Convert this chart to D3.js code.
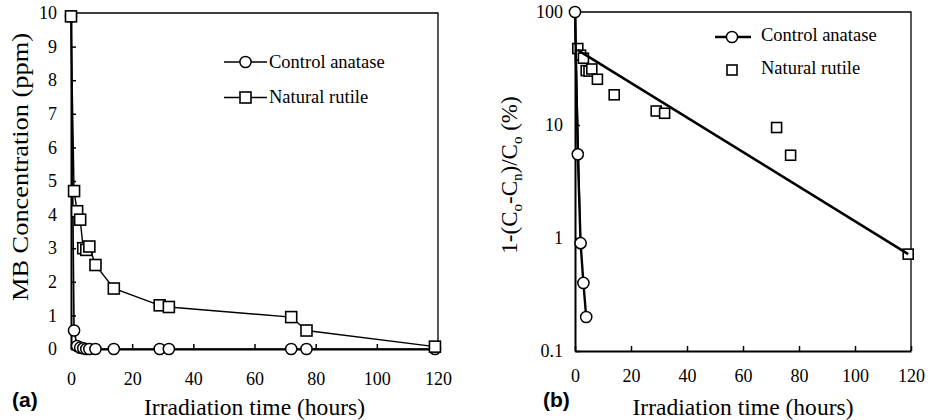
<!DOCTYPE html>
<html>
<head>
<meta charset="utf-8">
<script src="https://cdn.jsdelivr.net/npm/d3@7"></script>
<style>
  html, body { margin: 0; padding: 0; background: #fff; }
  svg { display: block; }
</style>
</head>
<body>
<script>
// ---- Panel (a): MB concentration vs irradiation time ----
const timeH      = [0, 1, 2, 3, 4, 5, 6, 8, 14, 29, 32, 72, 77, 119];
const anataseMB  = [9.9, 0.55, 0.09, 0.04, 0.02, 0, 0, 0, 0, 0, 0, 0, 0, 0];
const rutileMB   = [9.9, 4.7, 4.1, 3.85, 3.0, 2.95, 3.05, 2.5, 1.8, 1.3, 1.25, 0.95, 0.55, 0.07];
const xTicksA    = [0, 20, 40, 60, 80, 100, 120];
const yTicksA    = [0, 1, 2, 3, 4, 5, 6, 7, 8, 9, 10];

// ---- Panel (b): remaining fraction (%) on a log scale ----
const anataseTimeB = [0, 1, 2, 3, 4];
const anatasePct   = [100, 5.5, 0.9, 0.4, 0.2];
const rutileTimeB  = [1, 2, 3, 4, 5, 6, 8, 14, 29, 32, 72, 77, 119];
const rutilePct    = [47.5, 41.5, 39, 30.3, 30, 31.3, 25.4, 18.5, 13.3, 12.7, 9.5, 5.4, 0.72];
const anataseFitTime = [0, 2];
const anataseFitPct  = [100, 0.9];
const rutileFitTime  = [1, 119];
const rutileFitPct   = [46, 0.72];
const xTicksB = [0, 20, 40, 60, 80, 100, 120];
const yTicksB = [0.1, 1, 10, 100];

const seriesNames = ["Control anatase", "Natural rutile"];

const SERIF = "'Liberation Serif', 'DejaVu Serif', serif";
const SANS  = "'Liberation Sans', Arial, sans-serif";

const svg = d3.select("body").append("svg")
  .attr("width", 930).attr("height", 420);

const zip = (xs, ys) => xs.map((x, i) => [x, ys[i]]);

function styleAxis(g) {
  g.attr("font-family", null).attr("font-size", null);
  g.select(".domain").attr("stroke", "#000").attr("stroke-width", 2);
  g.selectAll(".tick line").attr("stroke", "#000").attr("stroke-width", 1.5);
  g.selectAll(".tick text").style("font-size", "18px").attr("fill", "#000");
}

function circles(g, pts, sx, sy, r) {
  g.selectAll(null).data(pts).enter().append("circle")
    .attr("cx", d => sx(d[0])).attr("cy", d => sy(d[1])).attr("r", r)
    .attr("fill", "#fff").attr("stroke", "#000").attr("stroke-width", 1.5);
}
function squares(g, pts, sx, sy, s) {
  g.selectAll(null).data(pts).enter().append("rect")
    .attr("x", d => sx(d[0]) - s / 2).attr("y", d => sy(d[1]) - s / 2)
    .attr("width", s).attr("height", s)
    .attr("fill", "#fff").attr("stroke", "#000").attr("stroke-width", 1.6);
}

// ================= Panel (a) =================
{
  const x = d3.scaleLinear().domain([0, 120]).range([71, 438]);
  const y = d3.scaleLinear().domain([0, 10]).range([349, 13]);
  const g = svg.append("g");

  // frame (top and right)
  g.append("path")
    .attr("d", `M${x(0)},${y(10)}H${x(120)}V${y(0)}`)
    .attr("fill", "none").attr("stroke", "#000").attr("stroke-width", 1.3);

  const gx = g.append("g").attr("transform", `translate(0,${y(0)})`)
    .call(d3.axisBottom(x).tickValues(xTicksA).tickFormat(d3.format("d"))
      .tickSizeInner(-5).tickSizeOuter(0).tickPadding(23));
  styleAxis(gx);
  const gy = g.append("g").attr("transform", `translate(${x(0)},0)`)
    .call(d3.axisLeft(y).tickValues(yTicksA).tickFormat(d3.format("d"))
      .tickSizeInner(-5).tickSizeOuter(0).tickPadding(14));
  styleAxis(gy);

  const line = d3.line().x(d => x(d[0])).y(d => y(d[1]));
  const aPts = zip(timeH, anataseMB);
  const rPts = zip(timeH, rutileMB);

  g.append("path").attr("d", line(aPts)).attr("fill", "none")
    .attr("stroke", "#000").attr("stroke-width", 1.6);
  circles(g, aPts, x, y, 5.6);
  g.append("path").attr("d", line(rPts)).attr("fill", "none")
    .attr("stroke", "#000").attr("stroke-width", 1.4);
  squares(g, rPts, x, y, 11);

  // legend
  const lg = g.append("g");
  lg.append("line").attr("x1", 224).attr("x2", 267).attr("y1", 62).attr("y2", 62)
    .attr("stroke", "#000").attr("stroke-width", 1.5);
  lg.append("circle").attr("cx", 245.5).attr("cy", 62).attr("r", 5.6)
    .attr("fill", "#fff").attr("stroke", "#000").attr("stroke-width", 1.5);
  lg.append("text").attr("x", 269).attr("y", 67.5).style("font-size", "18.5px").text(seriesNames[0]);
  lg.append("line").attr("x1", 224).attr("x2", 267).attr("y1", 97.5).attr("y2", 97.5)
    .attr("stroke", "#000").attr("stroke-width", 1.5);
  lg.append("rect").attr("x", 240).attr("y", 92).attr("width", 11).attr("height", 11)
    .attr("fill", "#fff").attr("stroke", "#000").attr("stroke-width", 1.6);
  lg.append("text").attr("x", 269).attr("y", 102.5).style("font-size", "18.5px").text(seriesNames[1]);

  // axis titles
  g.append("text").attr("x", (x(0) + x(120)) / 2).attr("y", 415)
    .attr("text-anchor", "middle").style("font-size", "23px")
    .attr("textLength", 221).attr("lengthAdjust", "spacingAndGlyphs")
    .text("Irradiation time (hours)");
  g.append("text").attr("transform", `translate(28,167) rotate(-90)`)
    .attr("text-anchor", "middle").style("font-size", "23px")
    .attr("textLength", 268).attr("lengthAdjust", "spacingAndGlyphs")
    .text("MB Concentration (ppm)");

  g.append("text").attr("class", "panel").attr("x", 12).attr("y", 407).text("(a)");
}

// ================= Panel (b) =================
{
  const x = d3.scaleLinear().domain([0, 120]).range([575, 911]);
  const y = d3.scaleLog().domain([0.1, 100]).range([351, 12]);
  const g = svg.append("g");

  g.append("path")
    .attr("d", `M${x(0)},${y(100)}H${x(120)}V${y(0.1)}`)
    .attr("fill", "none").attr("stroke", "#000").attr("stroke-width", 1.3);

  const gx = g.append("g").attr("transform", `translate(0,${y(0.1)})`)
    .call(d3.axisBottom(x).tickValues(xTicksB).tickFormat(d3.format("d"))
      .tickSizeInner(-5).tickSizeOuter(0).tickPadding(18));
  styleAxis(gx);
  const gy = g.append("g").attr("transform", `translate(${x(0)},0)`)
    .call(d3.axisLeft(y).tickValues(yTicksB).tickFormat(d => String(d))
      .tickSizeInner(-5).tickSizeOuter(0).tickPadding(12));
  styleAxis(gy);

  const line = d3.line().x(d => x(d[0])).y(d => y(d[1]));

  squares(g, zip(rutileTimeB, rutilePct), x, y, 10);
  g.append("path").attr("d", line(zip(rutileFitTime, rutileFitPct))).attr("fill", "none")
    .attr("stroke", "#000").attr("stroke-width", 2.6);
  g.append("path").attr("d", line(zip(anataseFitTime, anataseFitPct))).attr("fill", "none")
    .attr("stroke", "#000").attr("stroke-width", 1.5);
  g.append("path").attr("d", line(zip(anataseTimeB, anatasePct))).attr("fill", "none")
    .attr("stroke", "#000").attr("stroke-width", 2.4);
  circles(g, zip(anataseTimeB, anatasePct), x, y, 5.6);

  // legend
  const lg = g.append("g");
  lg.append("line").attr("x1", 715).attr("x2", 751).attr("y1", 37).attr("y2", 37)
    .attr("stroke", "#000").attr("stroke-width", 2.4);
  lg.append("circle").attr("cx", 732).attr("cy", 37).attr("r", 5.6)
    .attr("fill", "#fff").attr("stroke", "#000").attr("stroke-width", 1.5);
  lg.append("text").attr("x", 761).attr("y", 41).style("font-size", "18.5px").text(seriesNames[0]);
  lg.append("rect").attr("x", 727).attr("y", 65).attr("width", 10).attr("height", 10)
    .attr("fill", "#fff").attr("stroke", "#000").attr("stroke-width", 1.6);
  lg.append("text").attr("x", 761).attr("y", 74).style("font-size", "18.5px").text(seriesNames[1]);

  g.append("text").attr("x", (x(0) + x(120)) / 2).attr("y", 415)
    .attr("text-anchor", "middle").style("font-size", "23px")
    .attr("textLength", 221).attr("lengthAdjust", "spacingAndGlyphs")
    .text("Irradiation time (hours)");

  const yt = g.append("text").attr("transform", `translate(517,175) rotate(-90)`)
    .attr("text-anchor", "middle").style("font-size", "23px");
  const parts = [["1-(C", 0], ["o", 1], ["-C", 0], ["n", 1], [")/C", 0], ["o", 1], [" (%)", 0]];
  parts.forEach(([t, sub]) => {
    const s = yt.append("tspan").text(t);
    if (sub) s.style("font-size", "15px").attr("baseline-shift", "-5");
  });

  g.append("text").attr("class", "panel").attr("x", 543).attr("y", 407).text("(b)");
}

// typography: serif for every label, bold sans for the panel letters
svg.selectAll("text").style("font-family", SERIF).attr("fill", "#000");
svg.selectAll("text.panel")
  .style("font-family", SANS).style("font-weight", "bold").style("font-size", "21px");
</script>
</body>
</html>
